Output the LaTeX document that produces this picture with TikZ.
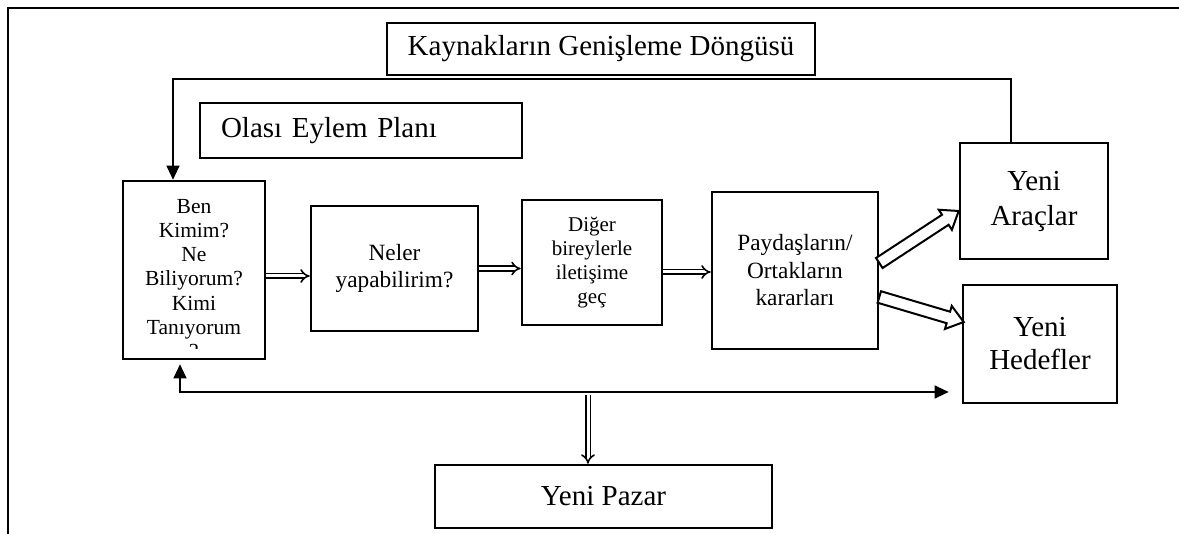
\documentclass[tikz,border=0pt]{standalone}
\usepackage{fontspec}
\setmainfont{Liberation Serif}
\usetikzlibrary{positioning,calc,arrows.meta}

% hollow block arrow between two named coordinates
\newcommand{\hollowarrow}[2]{%
  \coordinate (hahead) at ($(#2)!16pt!(#1)$);
  \draw[line width=2pt, fill=white, line join=miter]
    ($(#1)!6pt!90:(#2)$) -- ($(hahead)!6pt!90:(#2)$) -- ($(hahead)!12pt!90:(#2)$)
    -- (#2) -- ($(hahead)!12pt!-90:(#2)$) -- ($(hahead)!6pt!-90:(#2)$)
    -- ($(#1)!6pt!-90:(#2)$) -- cycle;
}

\begin{document}
\begin{tikzpicture}[x=1pt,y=-1pt,
    box/.style={rectangle, draw, line width=2.6pt, align=center, inner sep=0pt},
    titlebox/.style={rectangle, draw, line width=1.1pt, inner sep=0pt, font=\fontsize{29}{35}\selectfont},
    arr/.style={line width=1.1pt, -{Triangle[width=13pt,length=14pt]}},
    dbl/.style={double, double distance=3pt, line width=1.6pt, -{Implies}}]
    \useasboundingbox (0,0) rectangle (1179,534);
    \draw[line width=2.8pt] (8,534) -- (8,8) -- (1179,8);

    \node[titlebox, minimum width=428pt, minimum height=52pt] (kaynak) at (601,49) {Kaynakların Genişleme Döngüsü};
    \node[titlebox, minimum height=55pt, text width=280pt, inner xsep=21pt, align=left] (olasi) at (361,130.5) {Olası Eylem Planı};

    \node[box, minimum width=142pt, minimum height=178pt] (ben) at (194,270) {};
    \begin{scope}
        \clip ([xshift=2pt]ben.north west) rectangle ([yshift=12pt]ben.south east);
        \node[anchor=north, align=center, inner sep=0pt, font=\fontsize{21.5}{24.2}\selectfont] (bentext) at (194,199) {Ben\\Kimim?\\Ne\\Biliyorum?\\Kimi\\Tanıyorum\\?};
    \end{scope}
    \node[box, minimum width=167pt, minimum height=125pt, font=\fontsize{23.3}{27}\selectfont] (neler) at (394.5,268.5) {Neler\\yapabilirim?};
    \node[box, minimum width=140pt, minimum height=125pt, font=\fontsize{21}{24}\selectfont] (diger) at (592,262.5) {Diğer\\bireylerle\\iletişime\\geç};
    \node[box, minimum width=166pt, minimum height=157pt, font=\fontsize{23.3}{27.5}\selectfont] (pay) at (795,270.5) {Paydaşların/\\Ortakların\\kararları};
    \node[box, minimum width=148pt, minimum height=116pt, font=\fontsize{29}{35}\selectfont] (ara) at (1034,201) {Yeni\\Araçlar};
    \node[box, minimum width=154pt, minimum height=118pt, font=\fontsize{29}{33}\selectfont] (hed) at (1040,344) {Yeni\\Hedefler};
    \node[box, minimum width=337pt, minimum height=63pt, font=\fontsize{29}{35}\selectfont] (pazar) at (603.5,496.5) {Yeni Pazar};

    % main flow
    \draw[dbl] ([yshift=-6pt]ben.east) -- ([yshift=-6pt]ben.east -| neler.west);
    \draw[dbl] (neler.east) -- (neler.east -| diger.west);
    \draw[dbl] ([yshift=-9.5pt]diger.east) -- ([yshift=-9.5pt]diger.east -| pay.west);

    \coordinate (araS) at ([yshift=7.5pt]pay.east);
    \coordinate (araE) at ([yshift=-10pt]ara.west);
    \coordinate (hedS) at ([yshift=-26.5pt]pay.east);
    \coordinate (hedE) at ([xshift=2pt,yshift=22pt]hed.west);
    \hollowarrow{araS}{araE}
    \hollowarrow{hedS}{hedE}

    % loops
    \coordinate (looptop) at (600,79);
    \draw[arr] ([xshift=-23pt]ara.north) |- (looptop) -| ([xshift=-21pt]ben.north);
    \coordinate (split) at (588,392);
    \draw[line width=1.1pt, {Triangle[width=13pt,length=14pt]}-{Triangle[width=13pt,length=14pt]}]
        ([xshift=-14pt,yshift=-4pt]ben.south) |- (split) -- ([xshift=-13pt]split -| hed.west);
    \draw[dbl] ([yshift=-3pt]split) -- (split |- pazar.north);
\end{tikzpicture}
\end{document}
